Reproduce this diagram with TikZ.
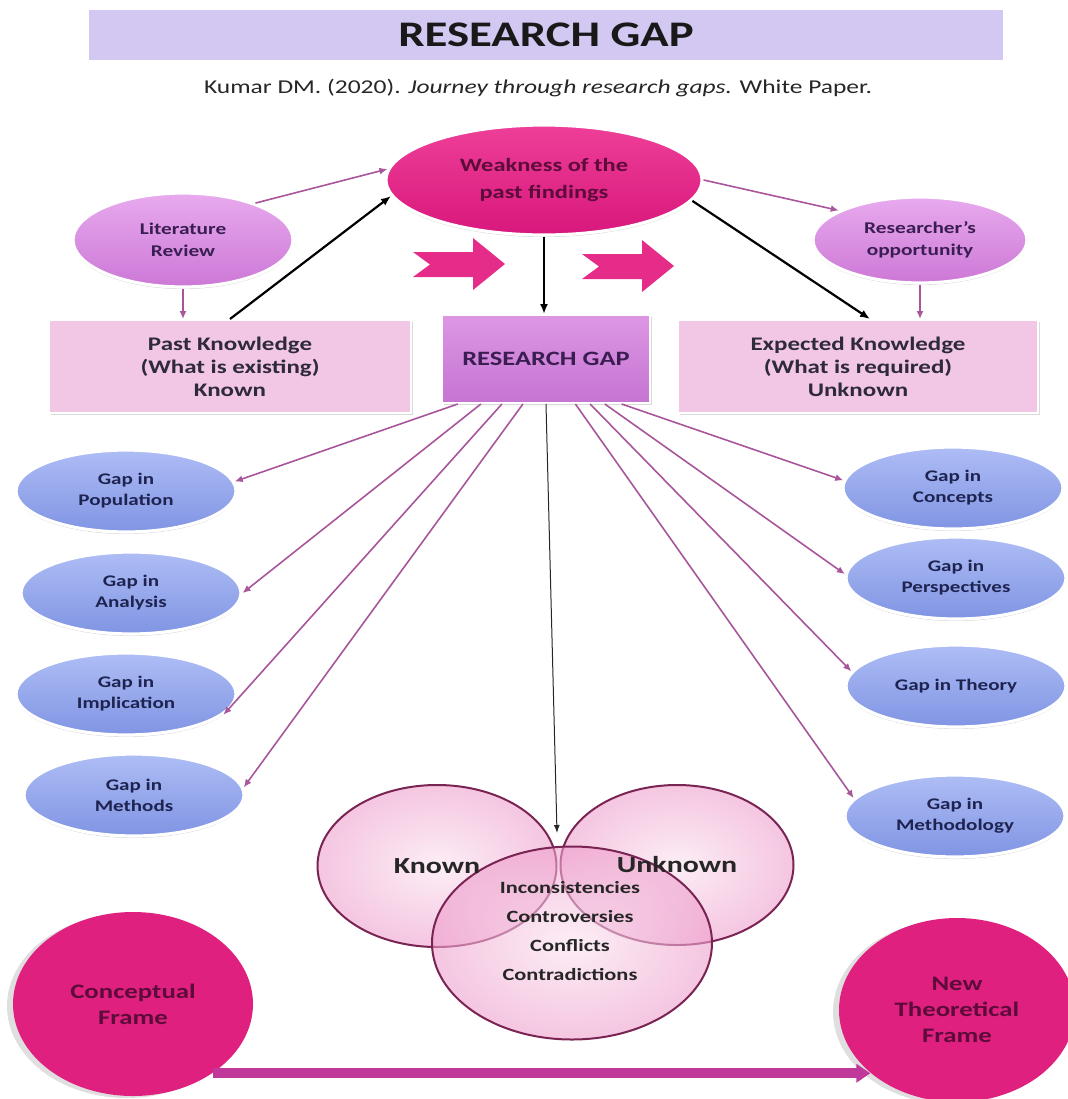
\documentclass[tikz,border=0pt]{standalone}
\usepackage{fontspec}
\setmainfont{Carlito}[FakeStretch=1.3]
\usetikzlibrary{shapes.geometric,arrows.meta,shadows,calc}

\definecolor{bannerbg}{HTML}{D2C8F2}
\definecolor{weaktop}{HTML}{EE3F98}
\definecolor{weakbot}{HTML}{D8177C}
\definecolor{framepink}{HTML}{E0207F}
\definecolor{orchidtop}{HTML}{E8AAEE}
\definecolor{orchidbot}{HTML}{CC78D6}
\definecolor{boxpink}{HTML}{F2C7E5}
\definecolor{gaptop}{HTML}{DD96E4}
\definecolor{gapbot}{HTML}{C574D2}
\definecolor{bluetop}{HTML}{AEBDF5}
\definecolor{bluebot}{HTML}{8094E3}
\definecolor{vennpink}{HTML}{EE9FCC}
\definecolor{vennline}{HTML}{7A2454}
\definecolor{chevpink}{HTML}{E42C88}
\definecolor{mauve}{HTML}{A8559A}
\definecolor{bararrow}{HTML}{C0399A}
\definecolor{navytext}{HTML}{1E2350}
\definecolor{plumtext}{HTML}{3A1E52}
\definecolor{greytext}{HTML}{2E2A3A}
\definecolor{maroontext}{HTML}{5C0B3A}

\tikzset{
  halo/.style={draw=white,line width=1.6pt,
    drop shadow={shadow xshift=0pt,shadow yshift=-1pt,opacity=.35}},
  oval/.style={ellipse,inner sep=0pt,align=center},
  weakoval/.style={oval,halo,top color=weaktop,bottom color=weakbot,
    minimum width=158pt,minimum height=55pt,text=maroontext,
    font=\bfseries\fontsize{9.4}{13.5}\selectfont},
  sideoval/.style={oval,halo,top color=orchidtop,bottom color=orchidbot,
    minimum width=110pt,minimum height=47pt,text=plumtext,
    font=\bfseries\fontsize{8.2}{11}\selectfont},
  gapoval/.style={oval,halo,top color=bluetop,bottom color=bluebot,
    minimum width=110pt,minimum height=41pt,text=navytext,
    font=\bfseries\fontsize{8.1}{10.5}\selectfont},
  frameoval/.style={oval,fill=framepink,minimum width=120pt,minimum height=92pt,
    text=maroontext,font=\bfseries\fontsize{10.3}{13}\selectfont,
    drop shadow={shadow xshift=-3pt,shadow yshift=-1pt,opacity=.25}},
  knowbox/.style={rectangle,fill=boxpink,draw=white,line width=1pt,
    minimum width=181pt,minimum height=46.5pt,align=center,text=greytext,
    font=\bfseries\fontsize{9.6}{11.5}\selectfont,
    drop shadow={shadow xshift=1.2pt,shadow yshift=-1.2pt,opacity=.3}},
  gapbox/.style={rectangle,top color=gaptop,bottom color=gapbot,draw=white,
    line width=1pt,minimum width=104pt,minimum height=44pt,text=plumtext,
    font=\bfseries\fontsize{10.2}{12}\selectfont,
    drop shadow={shadow xshift=1.2pt,shadow yshift=-1.2pt,opacity=.3}},
  venn/.style={ellipse,inner sep=0pt,draw=vennline,line width=1pt,
    inner color=vennpink!30,outer color=vennpink,fill opacity=.6},
  venntext/.style={text=black!85,font=\bfseries\fontsize{11.5}{13}\selectfont},
  issuetext/.style={align=center,text=black!85,
    font=\bfseries\fontsize{8.6}{14.5}\selectfont},
  chevron/.style={fill=chevpink},
  pinkarrow/.style={-{Latex[length=4pt,width=3.5pt]},mauve,line width=.8pt},
  blackarrow/.style={-{Latex[length=5pt,width=4pt]},black,line width=1.1pt},
  thinarrow/.style={-{Latex[length=4pt,width=3pt]},black!85,line width=.5pt},
  bigarrow/.style={-{Triangle[length=7pt,width=9pt]},bararrow,line width=5pt}
}

\begin{document}
\begin{tikzpicture}[x=0.5pt,y=-0.5pt]
  \useasboundingbox (0,0) rectangle (1068,1099);
  % title and source
  \node[fill=bannerbg,minimum width=457pt,minimum height=25pt,inner sep=0pt,
        text=black!90,font=\bfseries\fontsize{18}{20}\selectfont]
        (banner) at (546,35) {RESEARCH GAP};
  \node[text=black!85,font=\fontsize{9.8}{12}\selectfont] (source) at (538,88)
        {Kumar DM. (2020). \textit{Journey through research gaps.} White Paper.};

  % top row
  \node[weakoval] (weak) at (544,180) {Weakness of the\\past findings};
  \node[sideoval] (lit) at (183,240) {Literature\\Review};
  \node[sideoval,minimum width=107pt,minimum height=43pt] (res) at (920,240)
        {Researcher’s\\opportunity};
  \node[knowbox] (past) at (230,366.5) {Past Knowledge\\(What is existing)\\Known};
  \node[gapbox] (gap) at (546,359) {RESEARCH GAP};
  \node[knowbox,minimum width=180pt] (exp) at (858,366.5)
        {Expected Knowledge\\(What is required)\\Unknown};

  % chevrons
  \foreach \dx/\dy in {0/0,169/2}
    \fill[chevron,shift={(\dx,\dy)}]
      (413,252) -- (473,252) -- (473,238) -- (505,264)
      -- (473,290) -- (473,277) -- (413,277) -- (430,264.5) -- cycle;

  % gaps on the left
  \node[gapoval] (pop) at (126,491) {Gap in\\Population};
  \node[gapoval] (ana) at (131,593) {Gap in\\Analysis};
  \node[gapoval] (imp) at (126,694) {Gap in\\Implication};
  \node[gapoval] (met) at (134,795) {Gap in\\Methods};
  % gaps on the right
  \node[gapoval] (con) at (953,488) {Gap in\\Concepts};
  \node[gapoval] (per) at (956,578) {Gap in\\Perspectives};
  \node[gapoval] (the) at (956,686) {Gap in Theory};
  \node[gapoval] (mdo) at (955,816) {Gap in\\Methodology};

  % venn
  \node[venn,minimum width=119.5pt,minimum height=81pt] (knownc) at (437,866) {};
  \node[venn,minimum width=116.5pt,minimum height=80pt] (unknownc) at (677,865) {};
  \node[venn,minimum width=140pt,minimum height=96.5pt] (issuec) at (572,943) {};
  \node[venntext] (knownlbl) at (knownc) {Known};
  \node[venntext] (unknownlbl) at (unknownc) {Unknown};
  \node[issuetext] (issues) at (570,931)
        {Inconsistencies\\Controversies\\Conflicts\\Contradictions};
  \coordinate (venntop) at (557,833);

  % frames
  \node[frameoval] (concept) at (133,1004) {Conceptual\\Frame};
  \node[frameoval,minimum width=118pt] (newframe) at (957,1010)
        {New\\Theoretical\\Frame};

  % connectors
  \draw[pinkarrow] (lit.27) -- (weak.176);
  \draw[blackarrow] (past.north) -- (weak.186);
  \draw[pinkarrow] (lit.south) -- (lit.south |- past.north);
  \draw[blackarrow] (weak.south) -- (weak.south |- gap.north);
  \draw[pinkarrow] (weak.east) -- (res.160);
  \draw[blackarrow] (weak.-8) -- ($(exp.north)+(12,0)$);
  \draw[pinkarrow] (res.south) -- (res.south |- exp.north);
  \draw[thinarrow] (gap.south) -- (venntop);

  \draw[pinkarrow] ($(gap.south west)!.08!(gap.south east)$) -- (pop.5);
  \draw[pinkarrow] ($(gap.south west)!.19!(gap.south east)$) -- (ana.east);
  \draw[pinkarrow] ($(gap.south west)!.29!(gap.south east)$) -- (imp.-12);
  \draw[pinkarrow] ($(gap.south west)!.39!(gap.south east)$) -- (met.4);
  \draw[pinkarrow] ($(gap.south west)!.86!(gap.south east)$) -- (con.176);
  \draw[pinkarrow] ($(gap.south west)!.78!(gap.south east)$) -- (per.178);
  \draw[pinkarrow] ($(gap.south west)!.71!(gap.south east)$) -- (the.172);
  \draw[pinkarrow] ($(gap.south west)!.64!(gap.south east)$) -- (mdo.170);

  \draw[bigarrow] (concept.-41) -- (concept.-41 -| newframe.-144);
\end{tikzpicture}
\end{document}
